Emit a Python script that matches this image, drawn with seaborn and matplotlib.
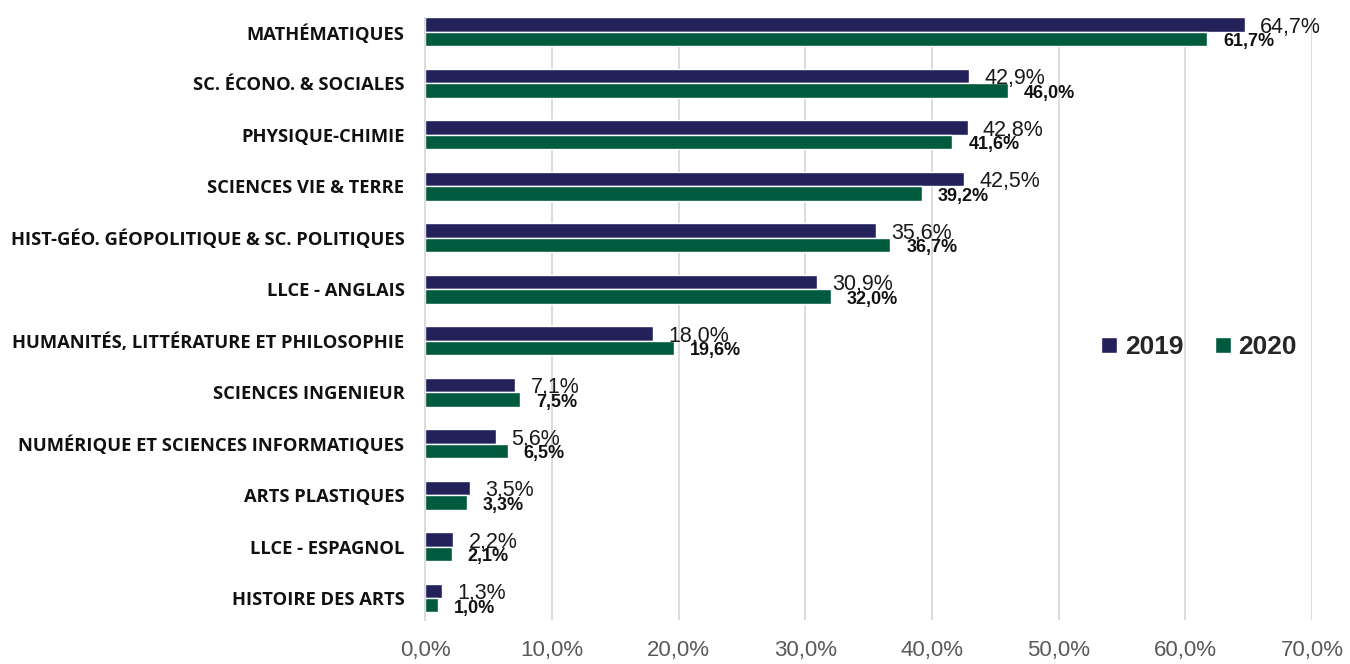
import seaborn as sns
import matplotlib.pyplot as plt
import pandas as pd

subjects = ['MATHÉMATIQUES', 'SC. ÉCONO. & SOCIALES', 'PHYSIQUE-CHIMIE', 'SCIENCES VIE & TERRE',
            'HIST-GÉO. GÉOPOLITIQUE & SC. POLITIQUES', 'LLCE - ANGLAIS',
            'HUMANITÉS, LITTÉRATURE ET PHILOSOPHIE', 'SCIENCES INGENIEUR',
            'NUMÉRIQUE ET SCIENCES INFORMATIQUES', 'ARTS PLASTIQUES', 'LLCE - ESPAGNOL',
            'HISTOIRE DES ARTS']
vals_2019 = [64.7, 42.9, 42.8, 42.5, 35.6, 30.9, 18.0, 7.1, 5.6, 3.5, 2.2, 1.3]
vals_2020 = [61.7, 46.0, 41.6, 39.2, 36.7, 32.0, 19.6, 7.5, 6.5, 3.3, 2.1, 1.0]
years = ['2019', '2020']
colors = ['#22215a', '#005a3e']
x_ticks = [0, 10, 20, 30, 40, 50, 60, 70]

df = pd.DataFrame({
    'subject': subjects * 2,
    'value': vals_2019 + vals_2020,
    'year': [years[0]] * len(subjects) + [years[1]] * len(subjects),
})

sns.set_style('white')
plt.rcParams['font.family'] = ['Liberation Sans', 'DejaVu Sans']

fig = plt.figure(figsize=(13.5, 6.64), dpi=100)
ax = fig.add_axes([0.315, 0.066, 0.657, 0.907])

sns.barplot(data=df, y='subject', x='value', hue='year', palette=colors,
            orient='h', width=0.56, saturation=1, ax=ax)

# value labels
fmt = lambda v: f'{v:.1f}%'.replace('.', ',')
for cont, yr in zip(ax.containers, years):
    for bar in cont:
        v = bar.get_width()
        yc = bar.get_y() + bar.get_height() / 2
        if yr == '2019':
            ax.annotate(fmt(v), (v, yc), xytext=(11, -2), textcoords='offset points',
                        ha='left', va='center', fontsize=15.5, color='#1a1a1a')
        else:
            ax.annotate(fmt(v), (v, yc), xytext=(11.5, -2), textcoords='offset points',
                        ha='left', va='center', fontsize=13, fontweight='bold', color='#111111')

ax.set_xlim(0, 70)
ax.set_xticks(x_ticks)
ax.set_xticklabels([f'{t},0%' for t in x_ticks], fontsize=16, color='#595959')
ax.set_yticks(range(len(subjects)))
ax.set_yticklabels(subjects, family=['Open Sans', 'DejaVu Sans'], fontweight='bold',
                   fontsize=13.2, color='#111111')
ax.tick_params(axis='y', length=0, pad=15)
ax.tick_params(axis='x', length=0, pad=14)
ax.set_xlabel('')
ax.set_ylabel('')
ax.grid(axis='x', color='#d9d9d9', linewidth=1.3)
ax.set_axisbelow(True)
for s in ['top', 'right', 'bottom']:
    ax.spines[s].set_visible(False)
ax.spines['left'].set_color('#d9d9d9')
ax.spines['left'].set_linewidth(1.3)
ax.set_ylim(len(subjects) - 0.57, -0.27)

ax.legend(loc='center left', bbox_to_anchor=(0.735, 0.453), ncol=2, frameon=False,
          prop={'size': 19, 'weight': 'bold'}, handlelength=0.6, handleheight=0.6,
          handletextpad=0.3, columnspacing=1.2)

fig.savefig('out.png', dpi=100)
